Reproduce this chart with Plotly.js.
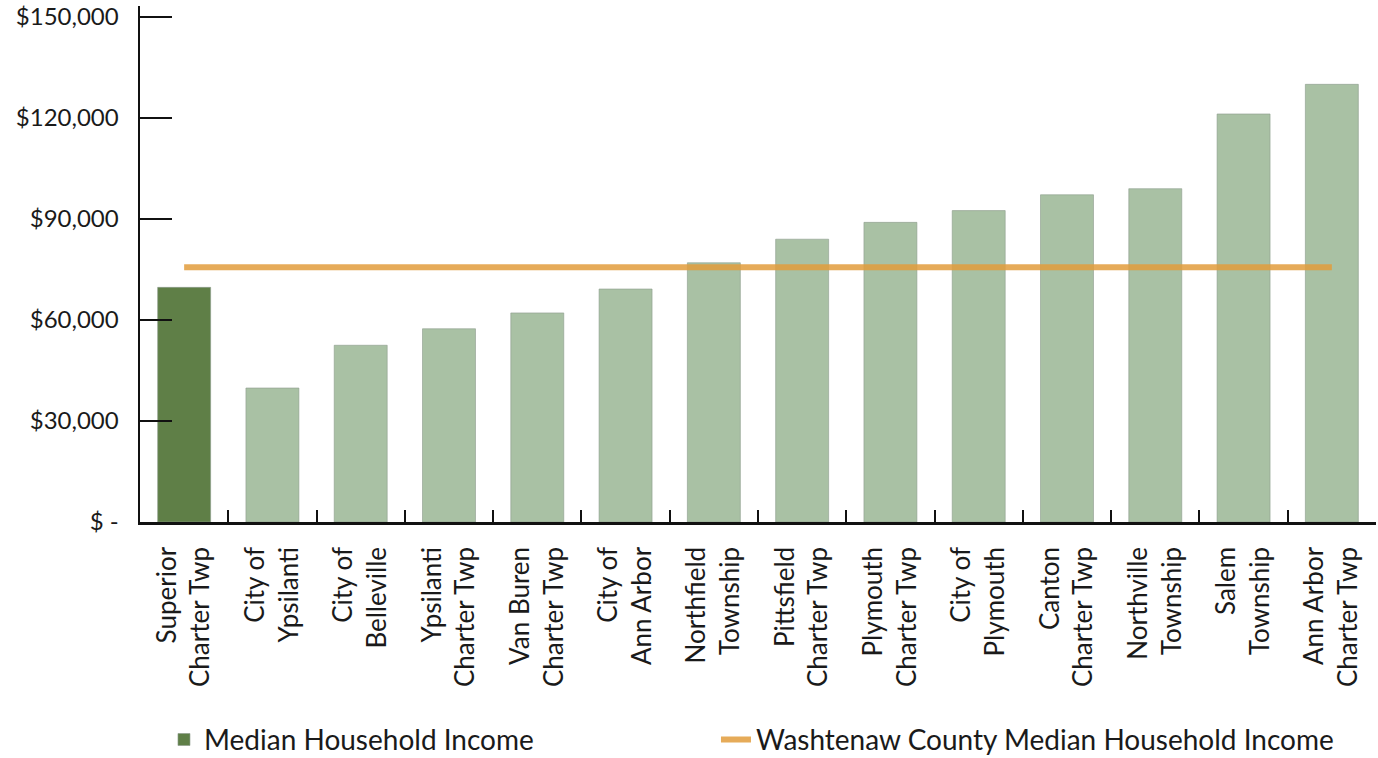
<!DOCTYPE html>
<html>
<head>
<meta charset="utf-8">
<script src="https://cdn.plot.ly/plotly-3.0.1.min.js"></script>
<style>html,body{margin:0;padding:0;background:#fff;}#chart{width:1378px;height:758px;}</style>
</head>
<body>
<div id="chart"></div>
<script>
// ---- data ----
const categories = [
  "Superior<br>Charter Twp",
  "City of<br>Ypsilanti",
  "City of<br>Belleville",
  "Ypsilanti<br>Charter Twp",
  "Van Buren<br>Charter Twp",
  "City of<br>Ann Arbor",
  "Northfield<br>Township",
  "Pittsfield<br>Charter Twp",
  "Plymouth<br>Charter Twp",
  "City of<br>Plymouth",
  "Canton<br>Charter Twp",
  "Northville<br>Township",
  "Salem<br>Township",
  "Ann Arbor<br>Charter Twp"
];
const medianIncome = [69700, 39800, 52500, 57400, 62100, 69200, 77000, 84000, 89000, 92500, 97200, 99000, 121200, 130000];
const countyMedian = 75700;
const highlighted = "Superior<br>Charter Twp";
const yTickVals = [0, 30000, 60000, 90000, 120000, 150000];
const yTickText = ["$ -", "$30,000", "$60,000", "$90,000", "$120,000", "$150,000"];
const seriesNames = ["Median Household Income", "Washtenaw County Median Household Income"];

// ---- styles ----
const lightGreen = "#a9c1a4";
const darkGreen = "#5f7f47";
const orange = "rgba(226,156,60,0.85)";
const FONT = "Lato, 'Open Sans', sans-serif";

const barColors = categories.map(c => c === highlighted ? darkGreen : lightGreen);

const traces = [
  {
    type: "bar",
    name: seriesNames[0],
    x: categories,
    y: medianIncome,
    marker: {color: barColors, line: {color: "rgba(140,155,140,0.6)", width: 1}},
    width: 0.6,
    legend: "legend"
  },
  {
    type: "scatter",
    mode: "lines",
    name: seriesNames[1],
    x: categories,
    y: categories.map(() => countyMedian),
    line: {color: orange, width: 6},
    legend: "legend2"
  }
];

const legendFont = {size: 28, family: FONT, color: "#1a1a1a"};

const layout = {
  width: 1378,
  height: 758,
  margin: {l: 140, r: 2, t: 6, b: 236, autoexpand: false},
  paper_bgcolor: "#fff",
  plot_bgcolor: "#fff",
  font: {family: FONT, color: "#1a1a1a"},
  showlegend: true,
  legend: {
    orientation: "h",
    x: 0.0194,
    xanchor: "left",
    yref: "container",
    y: 0.024,
    yanchor: "middle",
    font: legendFont,
    bgcolor: "rgba(0,0,0,0)"
  },
  legend2: {
    orientation: "h",
    x: 0.466,
    xanchor: "left",
    yref: "container",
    y: 0.024,
    yanchor: "middle",
    font: legendFont,
    bgcolor: "rgba(0,0,0,0)"
  },
  xaxis: {
    type: "category",
    automargin: false,
    showline: true,
    linecolor: "#111",
    linewidth: 2.5,
    ticks: "inside",
    tickson: "boundaries",
    ticklen: 12,
    tickwidth: 2,
    tickcolor: "#111",
    tickangle: -90,
    tickfont: {size: 26, family: FONT, color: "#1a1a1a"},
    ticklabelstandoff: 12,
    showgrid: false,
    zeroline: false,
    range: [-0.5, categories.length - 0.5],
    fixedrange: true
  },
  yaxis: {
    automargin: false,
    range: [0, 153270],
    showline: true,
    linecolor: "#111",
    linewidth: 2.5,
    ticks: "inside",
    ticklen: 32,
    tickwidth: 2.5,
    tickcolor: "#111",
    tickvals: yTickVals,
    ticktext: yTickText,
    tickfont: {size: 24, family: FONT, color: "#1a1a1a"},
    ticklabelstandoff: 14,
    ticklabeloverflow: "allow",
    showgrid: false,
    zeroline: false,
    fixedrange: true
  }
};

Plotly.newPlot("chart", traces, layout, {displayModeBar: false, staticPlot: true});
</script>
</body>
</html>
